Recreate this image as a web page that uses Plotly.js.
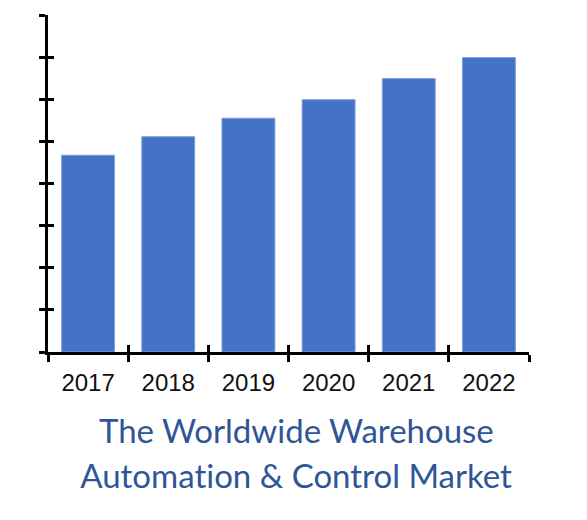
<!DOCTYPE html>
<html>
<head>
<meta charset="utf-8">
<script src="https://cdn.plot.ly/plotly-3.0.1.min.js"></script>
<style>
html,body{margin:0;padding:0;background:#fff;}
#chart{width:587px;height:520px;}
#chart text, #chart tspan{font-variant-ligatures:none !important;font-feature-settings:"liga" 0, "clig" 0, "calt" 0, "dlig" 0 !important;}
</style>
</head>
<body>
<div id="chart"></div>
<script>
const years = ["2017", "2018", "2019", "2020", "2021", "2022"];
const marketSize = [4.67, 5.11, 5.55, 5.99, 6.49, 6.99];
const titleLines = ["The Worldwide Warehouse", "Automation & Control Market"];

const traces = [
  {
    type: "bar",
    x: years,
    y: marketSize,
    width: 0.66,
    marker: {color: "#4472C4", line: {color: "#7f9fd8", width: 1}},
    hoverinfo: "x+y",
    showlegend: false
  },
  {
    type: "scatter", mode: "markers", x: [], y: [],
    xaxis: "x2", yaxis: "y2", showlegend: false, hoverinfo: "skip"
  }
];

const layout = {
  width: 587, height: 520,
  margin: {l: 48, r: 58, t: 15, b: 168},
  paper_bgcolor: "#fff", plot_bgcolor: "#fff",
  showlegend: false,
  xaxis: {
    type: "category",
    range: [-0.5, 5.5],
    tickson: "boundaries",
    ticks: "outside", ticklen: 7, tickwidth: 3, tickcolor: "#000",
    showline: true, linecolor: "#000", linewidth: 3,
    showgrid: false, zeroline: false,
    tickfont: {family: "Liberation Sans, Arial, sans-serif", size: 24, color: "#111"},
    ticklabelstandoff: 7
  },
  yaxis: {
    range: [0, 8], dtick: 1,
    ticks: "outside", ticklen: 6, tickwidth: 3, tickcolor: "#000",
    showline: true, linecolor: "#000", linewidth: 3,
    showgrid: false, zeroline: false, showticklabels: false
  },
  xaxis2: {
    overlaying: "x", anchor: "y2",
    range: [-0.5, 5.5], tickmode: "linear", tick0: -0.5, dtick: 1,
    ticks: "inside", ticklen: 7, tickwidth: 3, tickcolor: "#000",
    showline: false, showgrid: false, zeroline: false, showticklabels: false
  },
  yaxis2: {
    overlaying: "y", anchor: "x2",
    range: [0, 8], dtick: 1,
    ticks: "inside", ticklen: 6, tickwidth: 3, tickcolor: "#000",
    showline: false, showgrid: false, zeroline: false, showticklabels: false
  },
  annotations: titleLines.map((t, i) => ({
    text: t,
    xref: "paper", yref: "paper",
    x: 0.5156, y: i === 0 ? -0.231 : -0.364,
    xanchor: "center", yanchor: "middle",
    showarrow: false,
    font: {family: "Lato, sans-serif", size: 33, color: "#2F5597"}
  }))
};

Plotly.newPlot("chart", traces, layout, {displayModeBar: false, staticPlot: true});
</script>
</body>
</html>
